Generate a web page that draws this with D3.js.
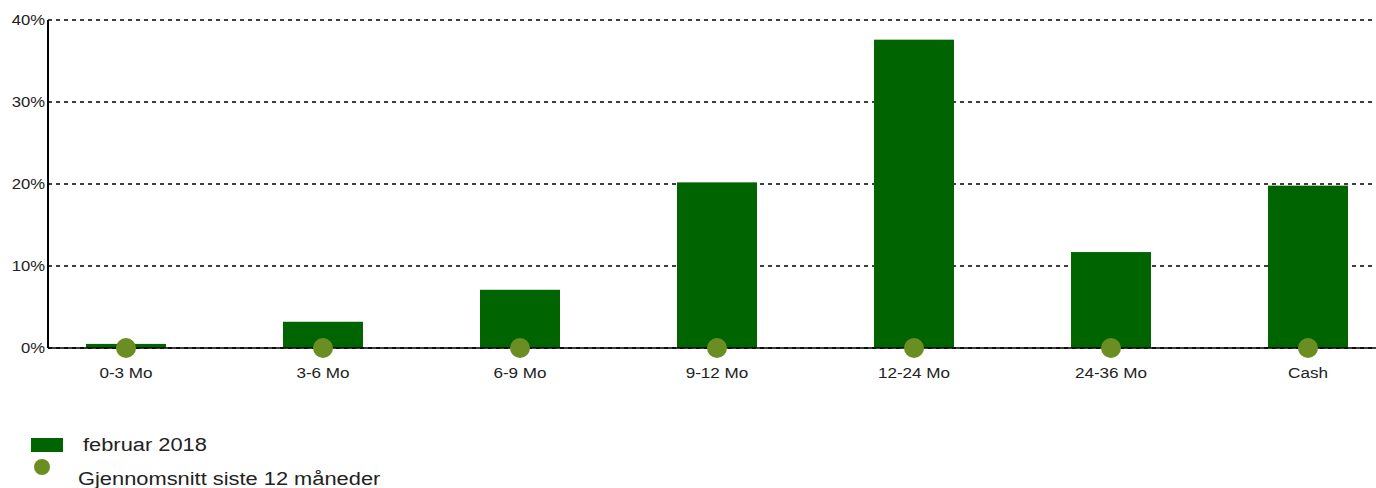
<!DOCTYPE html>
<html><head><meta charset="utf-8">
<script src="https://cdn.jsdelivr.net/npm/d3@7"></script>
<style>body{margin:0;background:#fff}svg{display:block;font-family:"Liberation Sans",Arial,sans-serif}</style>
</head><body>
<svg id="c" width="1376" height="488"></svg>
<script>
const categories = ["0-3 Mo","3-6 Mo","6-9 Mo","9-12 Mo","12-24 Mo","24-36 Mo","Cash"];
const currentValues = [0.5, 3.2, 7.1, 20.2, 37.6, 11.7, 19.8];
const averageValues = [0, 0, 0, 0, 0, 0, 0];
const yTicks = [0, 10, 20, 30, 40];
const seriesNames = ["februar 2018", "Gjennomsnitt siste 12 måneder"];

const svg = d3.select("#c");
const x = d3.scaleBand().domain(categories).range([86, 1348]).paddingInner(0.594).paddingOuter(0);
const y = d3.scaleLinear().domain([0, 40]).range([348, 20]);
const left = 48, right = 1376;

// gridlines
svg.append("g").selectAll("line").data(yTicks).join("line")
  .attr("x1", left).attr("x2", right)
  .attr("y1", d => y(d)).attr("y2", d => y(d))
  .attr("stroke", "#000").attr("stroke-width", 1.6).attr("stroke-dasharray", "4,4");

// bars
svg.append("g").selectAll("rect").data(categories).join("rect")
  .attr("x", d => x(d)).attr("width", x.bandwidth())
  .attr("y", (d, i) => y(currentValues[i]))
  .attr("height", (d, i) => y(0) - y(currentValues[i]))
  .attr("fill", "#006400");

// zero line
svg.append("line").attr("x1", left).attr("x2", right).attr("y1", y(0)).attr("y2", y(0))
  .attr("stroke", "#000").attr("stroke-width", 1.5);

// dots
svg.append("g").selectAll("circle").data(categories).join("circle")
  .attr("cx", d => x(d) + x.bandwidth() / 2)
  .attr("cy", (d, i) => y(averageValues[i]))
  .attr("r", 10).attr("fill", "#6b8e23");

// y axis
svg.append("line").attr("x1", left).attr("x2", left).attr("y1", y(40)).attr("y2", y(0))
  .attr("stroke", "#000").attr("stroke-width", 2);
svg.append("g").selectAll("text").data(yTicks).join("text")
  .attr("transform", d => `translate(45,${y(d)}) scale(1.11,1)`)
  .attr("dy", "0.35em")
  .attr("text-anchor", "end").attr("font-size", 15).attr("fill", "#222")
  .text(d => d + "%");

// x labels
svg.append("g").selectAll("text").data(categories).join("text")
  .attr("transform", d => `translate(${x(d) + x.bandwidth() / 2},378) scale(1.14,1)`)
  .attr("text-anchor", "middle").attr("font-size", 15).attr("fill", "#222")
  .text(d => d);

// legend
const lg = svg.append("g");
lg.append("rect").attr("x", 31).attr("y", 438).attr("width", 32).attr("height", 14).attr("fill", "#006400");
lg.append("text").attr("transform", "translate(83,451) scale(1.15,1)").attr("font-size", 19).attr("fill", "#222").text(seriesNames[0]);
lg.append("circle").attr("cx", 42).attr("cy", 467).attr("r", 8).attr("fill", "#6b8e23");
lg.append("text").attr("transform", "translate(78,485) scale(1.15,1)").attr("font-size", 19).attr("fill", "#222").text(seriesNames[1]);
</script>
</body></html>
